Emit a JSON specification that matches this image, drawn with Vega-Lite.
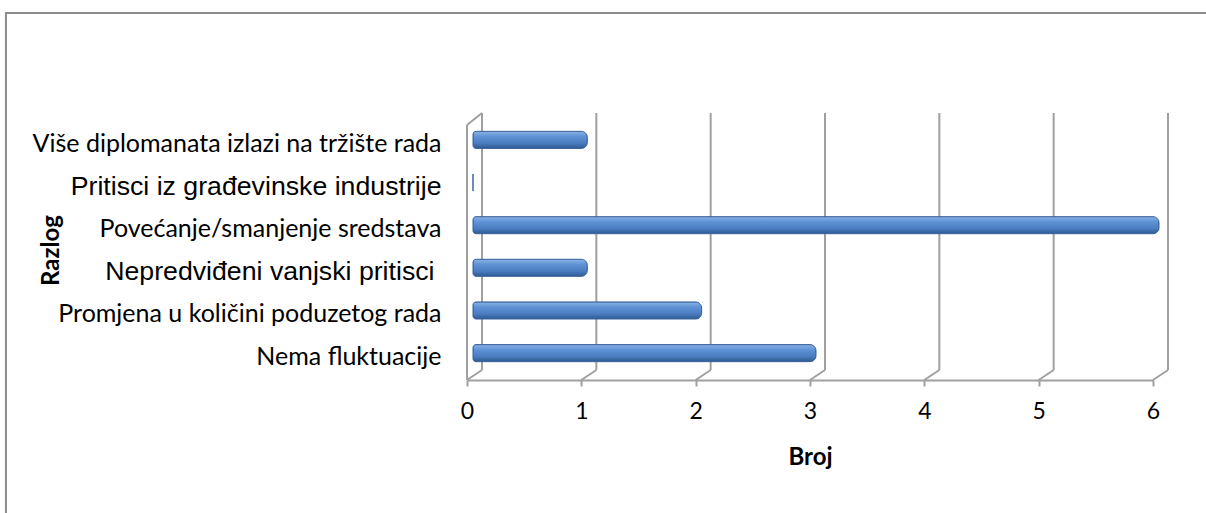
{
  "$schema": "https://vega.github.io/schema/vega-lite/v6.json",
  "width": 686,
  "height": 267,
  "autosize": {"type": "none"},
  "padding": {"left": 473, "top": 113, "right": 47, "bottom": 133},
  "background": "white",
  "config": {
    "view": {"stroke": null},
    "axisX": {
      "labelFont": "Lato",
      "labelFontSize": 23,
      "labelColor": "#000",
      "labelPadding": 14,
      "labelFlush": false,
      "domainColor": "#a0a0a0",
      "domainWidth": 2,
      "tickColor": "#a0a0a0",
      "tickWidth": 2,
      "tickSize": 6,
      "grid": false,
      "translate": -5.5,
      "offset": 6,
      "titleFont": "Lato",
      "titleFontWeight": "bold",
      "titleFontSize": 24,
      "titleColor": "#000",
      "titleX": 343,
      "titleY": 77,
      "titleAlign": "center",
      "titleBaseline": "middle"
    }
  },
  "datasets": {
    "bars": [
      {"reason": "Više diplomanata izlazi na tržište rada", "count": 1},
      {"reason": "Pritisci iz građevinske industrije", "count": 0},
      {"reason": "Povećanje/smanjenje sredstava", "count": 6},
      {"reason": "Nepredviđeni vanjski pritisci\u00a0", "count": 1},
      {"reason": "Promjena u količini poduzetog rada", "count": 2},
      {"reason": "Nema fluktuacije", "count": 3}
    ],
    "ticks": [{"v": 0}, {"v": 1}, {"v": 2}, {"v": 3}, {"v": 4}, {"v": 5}, {"v": 6}]
  },
  "layer": [
    {
      "data": {"name": "ticks"},
      "transform": [{"filter": "datum.v === 0"}],
      "mark": {"type": "rect", "fill": null, "stroke": "#8c8c8c", "strokeWidth": 2},
      "encoding": {
        "x": {"datum": -4.085, "type": "quantitative", "scale": {"domain": [0, 6], "nice": false, "zero": true}, "title": "Broj"},
        "x2": {"datum": 6.6},
        "y": {"datum": 367, "type": "quantitative", "scale": {"domain": [0, 267], "nice": false, "zero": false}, "axis": null},
        "y2": {"datum": -150}
      }
    },
    {
      "data": {"name": "ticks"},
      "mark": {"type": "rule", "color": "#a0a0a0", "strokeWidth": 2, "xOffset": 9, "x2Offset": 9},
      "encoding": {
        "x": {"field": "v", "type": "quantitative", "scale": {"domain": [0, 6], "nice": false, "zero": true}, "title": "Broj"},
        "y": {"datum": 10, "type": "quantitative", "scale": {"domain": [0, 267], "nice": false, "zero": false}, "axis": null},
        "y2": {"datum": 267}
      }
    },
    {
      "data": {"name": "ticks"},
      "mark": {"type": "rule", "color": "#a0a0a0", "strokeWidth": 2, "xOffset": -6, "x2Offset": 9},
      "encoding": {
        "x": {"field": "v", "type": "quantitative", "scale": {"domain": [0, 6], "nice": false, "zero": true}, "title": "Broj"},
        "x2": {"field": "v"},
        "y": {"datum": 0, "type": "quantitative", "scale": {"domain": [0, 267], "nice": false, "zero": false}, "axis": null},
        "y2": {"datum": 10}
      }
    },
    {
      "data": {"name": "ticks"},
      "transform": [{"filter": "datum.v === 0"}],
      "mark": {"type": "rule", "color": "#a0a0a0", "strokeWidth": 2, "xOffset": -6, "x2Offset": -6},
      "encoding": {
        "x": {"field": "v", "type": "quantitative", "scale": {"domain": [0, 6], "nice": false, "zero": true}, "title": "Broj"},
        "y": {"datum": 0, "type": "quantitative", "scale": {"domain": [0, 267], "nice": false, "zero": false}, "axis": null},
        "y2": {"datum": 255}
      }
    },
    {
      "data": {"name": "ticks"},
      "transform": [{"filter": "datum.v === 0"}],
      "mark": {"type": "rule", "color": "#a0a0a0", "strokeWidth": 2, "xOffset": -6, "x2Offset": 9},
      "encoding": {
        "x": {"field": "v", "type": "quantitative", "scale": {"domain": [0, 6], "nice": false, "zero": true}, "title": "Broj"},
        "x2": {"field": "v"},
        "y": {"datum": 255, "type": "quantitative", "scale": {"domain": [0, 267], "nice": false, "zero": false}, "axis": null},
        "y2": {"datum": 267}
      }
    },
    {
      "data": {"name": "bars"},
      "mark": {
        "type": "bar",
        "cornerRadiusTopLeft": 3,
        "cornerRadiusBottomLeft": 3,
        "cornerRadiusTopRight": 6,
        "cornerRadiusBottomRight": 6,
        "stroke": "#3a649c",
        "strokeWidth": 1,
        "color": {
          "gradient": "linear",
          "x1": 0, "y1": 0, "x2": 0, "y2": 1,
          "stops": [
            {"offset": 0, "color": "#8cb3e6"},
            {"offset": 0.3, "color": "#5f93d6"},
            {"offset": 0.7, "color": "#4a7cc0"},
            {"offset": 1, "color": "#2f5a90"}
          ]
        }
      },
      "encoding": {
        "y": {
          "field": "reason",
          "type": "nominal",
          "sort": null,
          "scale": {"paddingInner": 0.6, "paddingOuter": 0.43},
          "axis": {
            "title": "Razlog",
            "titleFont": "Lato",
            "titleFontWeight": "bold",
            "titleFontSize": 24,
            "titleColor": "#000",
            "titleX": -422,
            "titleY": 137,
            "titleAlign": "center",
            "titleBaseline": "middle",
            "titleAngle": -90,
            "labelFont": {"condition": {"test": "indexof(['Pritisci iz građevinske industrije','Nepredviđeni vanjski pritisci\u00a0'], datum.value) >= 0", "value": "Liberation Sans"}, "value": "Lato"},
            "labelFontSize": {"condition": {"test": "indexof(['Pritisci iz građevinske industrije','Nepredviđeni vanjski pritisci\u00a0'], datum.value) >= 0", "value": 26.7}, "value": 25},
            "labelPadding": {"condition": {"test": "indexof(datum.value, 'Nepredvi') === 0", "value": 39}, "value": 32},
            "labelColor": "#000",
            "labelOffset": 4,
            "labelLimit": 600,
            "ticks": false,
            "domain": false,
            "grid": false
          }
        },
        "x": {
          "field": "count",
          "type": "quantitative",
          "scale": {"domain": [0, 6], "nice": false, "zero": true},
          "title": "Broj",
          "axis": {"values": [0, 1, 2, 3, 4, 5, 6], "format": "d"}
        }
      }
    }
  ],
  "resolve": {"scale": {"y": "independent"}}
}
